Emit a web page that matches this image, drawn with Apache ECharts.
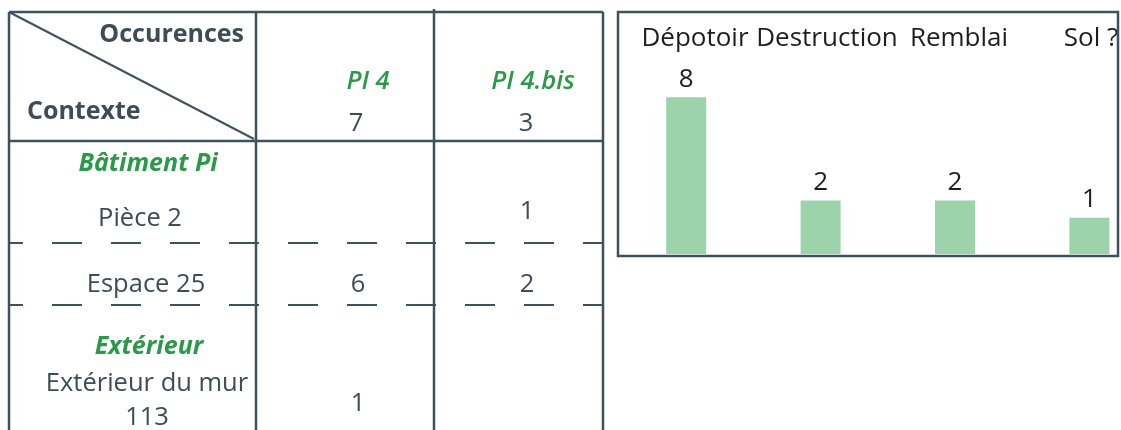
<!DOCTYPE html>
<html>
<head>
<meta charset="utf-8">
<script src="https://cdn.jsdelivr.net/npm/echarts@6/dist/echarts.min.js"></script>
<style>html,body{margin:0;padding:0;background:#fff}#c{width:1121px;height:430px}</style>
</head>
<body>
<div id="c"></div>
<script>
// ---- data ----
const categories = ['Dépotoir', 'Destruction', 'Remblai', 'Sol ?'];
const counts = [8, 2, 2, 1];
const columns = ['PI 4', 'PI 4.bis'];
const columnTotals = [7, 3];
const rowGroups = ['Bâtiment Pi', 'Extérieur'];
const rowLabels = ['Pièce 2', 'Espace 25', 'Extérieur du mur\n113'];
const pi4Values = [null, 6, 1];
const pi4bisValues = [1, 2, null];

// ---- styles ----
const FONT = '"Open Sans", "Noto Sans", sans-serif';
const LINE = '#3f515c';
const TXT = '#3d4c57';
const GREEN = '#2a9a48';
const BAR = '#9dd3aa';
const DARK = '#1e1e1e';
const DY = 1.5;

const chart = echarts.init(document.getElementById('c'), null, {renderer: 'canvas'});

const g = [];
function line(x1, y1, x2, y2, w, dash) {
  const style = {stroke: LINE, lineWidth: w || 2};
  if (dash) { style.lineDash = [30, 29]; style.lineDashOffset = 16; }
  g.push({type: 'line', shape: {x1, y1, x2, y2}, style, silent: true});
}
function text(t, x, y, opt) {
  opt = opt || {};
  g.push({type: 'text', x, y: y + DY, silent: true, style: {
    text: t, align: opt.align || 'center', verticalAlign: 'middle',
    fill: opt.fill || TXT,
    font: (opt.font || 'normal') + ' ' + (opt.size || 25.5) + 'px ' + FONT,
    lineHeight: opt.lh
  }});
}

// table grid
line(9, 12, 603, 12, 2.5);
line(9, 12, 9, 430, 2.5);
line(256, 12, 256, 430, 2.5);
line(434, 9, 434, 430, 2.5);
line(603, 12, 603, 430, 2.5);
line(9, 141, 603, 141, 2.5);
line(9, 12, 254, 139, 2);
line(9, 243, 603, 243, 2, true);
line(9, 305, 603, 305, 2, true);

// header
text('Occurences', 244, 33, {align: 'right', font: 'bold', size: 25});
text('Contexte', 27, 110, {align: 'left', font: 'bold', size: 25});
const colX = [368, 533];
const colValX = [356, 526];
columns.forEach((c, i) => text(c, colX[i], 80, {fill: GREEN, font: 'italic 600'}));
columnTotals.forEach((v, i) => text(String(v), colValX[i], 122));

// rows
text(rowGroups[0], 148, 162, {fill: GREEN, font: 'italic bold', size: 25});
text(rowGroups[1], 149, 345, {fill: GREEN, font: 'italic bold', size: 25});
const rowY = [217, 283, 399];
const rowValY = [210, 283, 402];
const rowLabelX = [140, 146, 147];
rowLabels.forEach((r, i) => text(r, rowLabelX[i], rowY[i], {lh: 34}));
pi4Values.forEach((v, i) => { if (v != null) text(String(v), colValX[0] + 2, rowValY[i]); });
pi4bisValues.forEach((v, i) => { if (v != null) text(String(v), colValX[1] + 1, rowValY[i]); });

// bar chart frame
g.push({type: 'rect', shape: {x: 618, y: 12, width: 500, height: 244},
  style: {fill: 'none', stroke: LINE, lineWidth: 2.5}, silent: true, z: 10});

chart.setOption({
  animation: false,
  grid: [
    {left: 619, width: 537.6, top: 80, bottom: 176, outerBoundsMode: 'none', containLabel: false},
    {left: 629, width: 528, top: 80, bottom: 176, outerBoundsMode: 'none', containLabel: false}
  ],
  xAxis: [
    {type: 'category', data: categories, gridIndex: 0, show: false},
    {
      type: 'category', data: categories, gridIndex: 1, position: 'top',
      axisLine: {show: false}, axisTick: {show: false}, splitLine: {show: false},
      axisLabel: {margin: 28, fontSize: 26, color: DARK, fontFamily: FONT, interval: 0}
    }
  ],
  yAxis: [
    {type: 'value', gridIndex: 0, min: -1.1, max: 9, startValue: -1.1, show: false, splitLine: {show: false}},
    {type: 'value', gridIndex: 1, min: 0, max: 1, show: false, splitLine: {show: false}}
  ],
  series: [{
    type: 'bar', data: counts, barWidth: 40, xAxisIndex: 0, yAxisIndex: 0,
    itemStyle: {color: BAR},
    label: {show: true, position: 'top', distance: 5, fontSize: 26, color: DARK, fontFamily: FONT}
  }],
  graphic: g
});
</script>
</body>
</html>
